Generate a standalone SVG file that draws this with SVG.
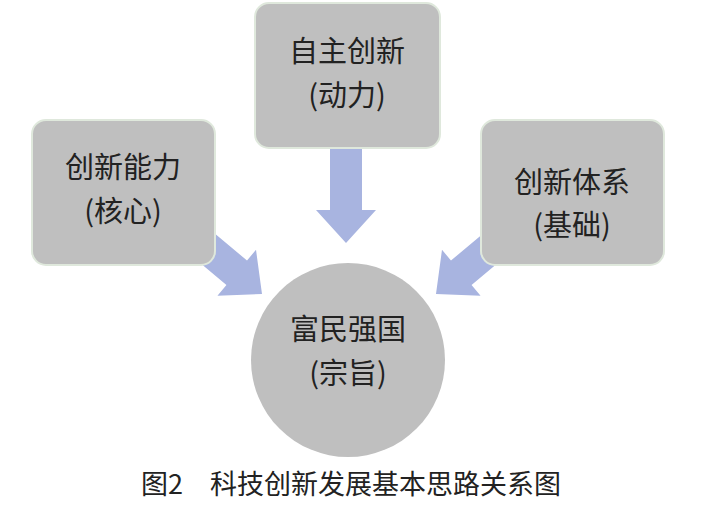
<svg xmlns="http://www.w3.org/2000/svg" width="702" height="505" viewBox="0 0 702 505">
<style>
.box{fill:#bfbfbf;stroke:#dfe8dc;stroke-width:2}
.t{font-family:"Noto Sans CJK SC",sans-serif;font-size:29px;fill:#222;text-anchor:middle}
.arr{fill:#a8b4e0}
</style>
<defs><polygon id="a" points="0,0 -33,-30 -33,-16 -95,-16 -95,16 -33,16 -33,30"/></defs>
<rect width="702" height="505" fill="#fff"/>
<g id="connectors">
<use href="#a" class="arr" transform="translate(262,294) rotate(40)"/>
<use href="#a" class="arr" transform="translate(436,294) rotate(140)"/>
<use href="#a" class="arr" transform="translate(346,243) rotate(90)"/>
</g>
<g id="top"><rect class="box" x="255" y="3" width="185" height="145" rx="14"/>
<text class="t" x="347" y="62">自主创新</text><text class="t" x="347" y="106">(动力)</text></g>
<g id="left"><rect class="box" x="32" y="120" width="183" height="145" rx="14"/>
<text class="t" x="123" y="178">创新能力</text><text class="t" x="123" y="222">(核心)</text></g>
<g id="right"><rect class="box" x="481" y="120" width="183" height="145" rx="14"/>
<text class="t" x="572" y="193">创新体系</text><text class="t" x="572" y="236">(基础)</text></g>
<g id="center"><circle cx="348" cy="360" r="97" fill="#bfbfbf"/>
<text class="t" x="348" y="340">富民强国</text><text class="t" x="348" y="384">(宗旨)</text></g>
<text x="351" y="494" style="font-family:'Noto Sans CJK SC',sans-serif;font-size:27px;fill:#222;text-anchor:middle">图2　科技创新发展基本思路关系图</text>
</svg>
